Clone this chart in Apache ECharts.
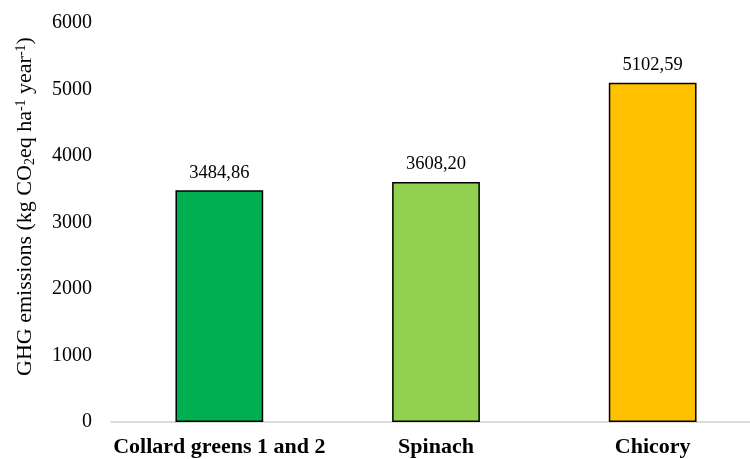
<!DOCTYPE html>
<html>
<head>
<meta charset="utf-8">
<script src="https://cdn.jsdelivr.net/npm/echarts@6/dist/echarts.min.js"></script>
<style>html,body{margin:0;padding:0;background:#fff}#c{width:750px;height:459px}</style>
</head>
<body>
<div id="c"></div>
<script>
const categories = ['Collard greens 1 and 2', 'Spinach', 'Chicory'];
const values = [3484.86, 3608.20, 5102.59];
const barColors = ['#00b050', '#92d050', '#ffc000'];
const yTicks = [0, 1000, 2000, 3000, 4000, 5000, 6000];

const serif = '"Liberation Serif", "Times New Roman", serif';
const chart = echarts.init(document.getElementById('c'));
chart.setOption({
  animation: false,
  grid: { left: 111, right: -11, top: 23, bottom: 37, containLabel: false, outerBoundsMode: 'none' },
  xAxis: {
    type: 'category',
    data: categories,
    axisLine: { show: true, lineStyle: { color: '#d0d0d0', width: 1.5 } },
    axisTick: { show: false },
    axisLabel: { color: '#000', fontFamily: serif, fontWeight: 'bold', fontSize: 22, margin: 14, interval: 0 }
  },
  yAxis: {
    type: 'value',
    min: yTicks[0],
    max: yTicks[yTicks.length - 1],
    interval: 1000,
    axisLine: { show: false },
    axisTick: { show: false },
    splitLine: { show: false },
    axisLabel: { color: '#000', fontFamily: serif, fontSize: 20, margin: 19, formatter: v => String(v) },
    name: '{m|GHG emissions (kg CO}{sub|2}{m|eq ha}{sup|-1}{m| year}{sup|-1}{m|)}',
    nameLocation: 'middle',
    nameGap: 74,
    nameRotate: 90,
    nameTextStyle: {
      color: '#000', fontFamily: serif, fontSize: 22,
      padding: [0, 0, 0, 32],
      rich: {
        m: { fontFamily: serif, fontSize: 22, color: '#000' },
        sub: { fontFamily: serif, fontSize: 14, color: '#000', verticalAlign: 'bottom', padding: [9, 0, 0, 0] },
        sup: { fontFamily: serif, fontSize: 14, color: '#000', verticalAlign: 'top', padding: [0, 0, 9, 0] }
      }
    }
  },
  series: [{
    type: 'bar',
    barWidth: '40.5%',
    data: values.map((v, i) => ({ value: v, itemStyle: { color: barColors[i] } })),
    itemStyle: { borderColor: '#000', borderWidth: 1.5 },
    label: {
      show: true, position: 'top', distance: 8,
      color: '#000', fontFamily: serif, fontSize: 18.5,
      formatter: p => p.value.toFixed(2).replace('.', ',')
    }
  }]
});
</script>
</body>
</html>
